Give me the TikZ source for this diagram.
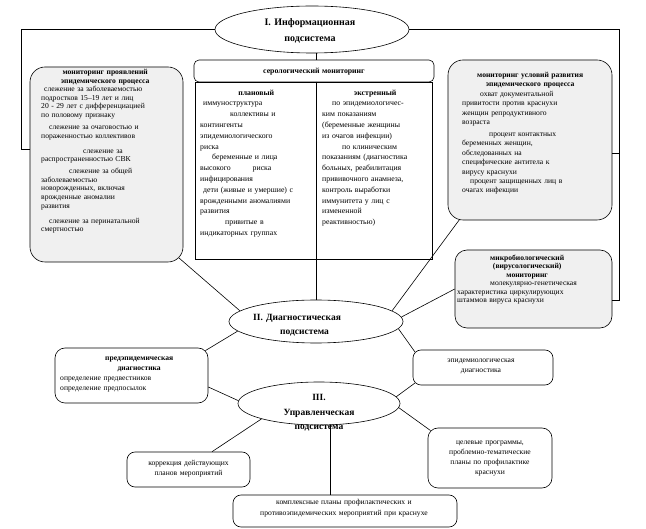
\documentclass[tikz,border=0pt]{standalone}
\usepackage{fontspec}
\setmainfont{Liberation Serif}
\usetikzlibrary{shapes.geometric,calc}
\newcommand{\J}[1]{\makebox[\linewidth][s]{#1}}
\newcommand{\C}[1]{\makebox[\linewidth][c]{\bfseries #1}}
\hbadness=10000 \hfuzz=20pt
\begin{document}
\begin{tikzpicture}[x=1pt,y=-1pt,
  ln/.style={line width=0.6pt},
  bx/.style={draw, line width=0.6pt, rectangle, inner sep=0, fill=white},
  gbx/.style={bx, fill=black!6},
  ell/.style={draw, line width=0.6pt, ellipse, inner sep=0, fill=white},
  txt/.style={inner sep=0, anchor=base west, align=left},
  ctxt/.style={inner sep=0, anchor=base, align=center, text width=#1},
  ctxt/.default=220,
  etxt/.style={ctxt=150, font=\fontsize{9.5}{15}\selectfont\bfseries}
]
\useasboundingbox[fill=white] (0,0) rectangle (646,529);

% coordinates for free corners of connectors
\coordinate (L1) at (21,29.5);
\coordinate (L2) at (21,149);
\coordinate (R1) at (619,29.5);
\coordinate (R2) at (619,300);
\coordinate (R3) at (619,153);
\coordinate (div) at (316,0);

% boxes
\node[gbx, rounded corners=15, minimum width=153, minimum height=195] (lbox) at (106.5,164.5) {};
\node[bx, rounded corners=5, minimum width=240, minimum height=22] (hdr) at (314,71) {};
\node[bx, minimum width=237, minimum height=177] (tbl) at (313.5,170.5) {};
\node[gbx, rounded corners=15, minimum width=164, minimum height=160] (rbox) at (530,140) {};
\node[gbx, rounded corners=12, minimum width=157, minimum height=78] (mbox) at (533.5,289) {};
\node[bx, rounded corners=10, minimum width=153, minimum height=55] (pbox) at (131.5,375.5) {};
\node[bx, rounded corners=8, minimum width=140, minimum height=35] (dbox) at (483,367.5) {};
\node[bx, rounded corners=8, minimum width=123, minimum height=35] (cbox) at (188.5,469.5) {};
\node[bx, rounded corners=10, minimum width=124, minimum height=60] (tbox) at (490,458) {};
\node[bx, rounded corners=8, minimum width=224, minimum height=32] (kbox) at (345,511) {};

% ellipses
\node[ell, minimum width=194, minimum height=47] (e1) at (312,29.5) {};
\node[ell, minimum width=174, minimum height=43] (e2) at (316,321.5) {};
\node[ell, minimum width=162, minimum height=43] (e3) at (319,403.5) {};

% connectors
\draw[ln] (e1.west) -- (L1) -- (L2) -- (L2 -| lbox.west);
\draw[ln] (e1.east) -- (R1) -- (R2) -- (R2 -| mbox.east);
\draw[ln] (rbox.east |- R3) -- (R3);
\draw[ln] (e1.south -| div) -- (hdr.north -| div);
\draw[ln] (tbl.north -| div) -- (tbl.south -| div);
\draw[ln] (tbl.south -| div) -- (e2.north -| div);
\draw[ln] ($(lbox.south east)+(-4.4,-4.4)$) -- (e2.172);
\draw[ln] ($(rbox.south west)+(12,-1)$) -- (e2.8);
\draw[ln] (mbox.west) -- (e2.3);
\draw[ln] ($(pbox.north east)+(-2.9,2.9)$) -- (e2.-173);
\draw[ln] ($(pbox.east)+(0,11.5)$) -- (e3.178);
\draw[ln] ($(dbox.north west)+(2.3,2.3)$) -- (e2.-5.5);
\draw[ln] ($(dbox.south west)+(2.3,-2.3)$) -- (e3.5.6);
\draw[ln] (e3.-3.4) -- ($(tbox.north west)+(2.9,2.9)$);
\draw[ln] (e3.-165) -- ($(cbox.north)+(23.5,0)$);
\draw[ln] (e3.-62.7) -- (e3.-62.7 |- kbox.north);

% ellipse texts
\node[etxt, font=\fontsize{10}{16}\selectfont\bfseries] (t1) at (310,26) {I. Информационная\\подсистема};
\node[txt, text width=130, font=\fontsize{9.5}{14}\selectfont\bfseries] (t2) at (253,321) {II. Диагностическая\\\hspace*{27pt}подсистема};
\node[etxt, font=\fontsize{9.5}{14.5}\selectfont\bfseries] (t3) at (319,401) {III.\\Управленческая\\подсистема};

% left box text
\node[txt, text width=128, font=\fontsize{7.6}{8.6}\selectfont] (lt) at (41,74.5) {%
\C{мониторинг проявлений}\\
\C{эпидемического процесса}\\
\J{\hspace*{3pt}слежение за заболеваемостью}\\
\J{подростков 15–19 лет и лиц}\\
\J{20 - 29 лет с дифференциацией}\\
по половому признаку\\[3.4pt]
\J{\hspace*{8pt}слежение за очаговостью и}\\
пораженностью коллективов\\[6.4pt]
\J{\hspace*{42pt}слежение за}\\
распространенностью СВК\\[3.4pt]
\J{\hspace*{28pt}слежение за общей}\\
заболеваемостью\\
\J{новорожденных, включая}\\
\J{врожденные аномалии}\\
развития\\[6.4pt]
\J{\hspace*{8pt}слежение за перинатальной}\\
смертностью};

% serological
\node[ctxt, font=\fontsize{7.8}{9}\selectfont\bfseries] (ht) at (314,73.5) {серологический мониторинг};
\node[txt, text width=112, font=\fontsize{7.8}{10.8}\selectfont] (tl) at (200,95.2) {%
\C{плановый}\\
\hspace*{3pt}иммуноструктура\\
\J{\hspace*{30pt}коллективы и}\\
контингенты\\
эпидемиологического\\
риска\\
\J{\hspace*{12pt}беременные и лица}\\
высокого\hspace{22pt}риска\\
инфицирования\\
\J{\hspace*{3pt}дети (живые и умершие) с}\\
\J{врожденными аномалиями}\\
развития\\
\J{\hspace*{25pt}привитые в}\\
индикаторных группах};
\node[txt, text width=106, font=\fontsize{7.8}{10.8}\selectfont] (tr) at (322,95.2) {%
\C{экстренный}\\
\J{\hspace*{10pt}по эпидемиологичес-}\\
\J{ким показаниям}\\
\J{(беременные женщины}\\
из очагов инфекции)\\
\J{\hspace*{20pt}по клиническим}\\
\J{показаниям (диагностика}\\
\J{больных, реабилитация}\\
\J{прививочного анамнеза,}\\
\J{контроль выработки}\\
\J{иммунитета у лиц с}\\
измененной\\
реактивностью)};

% right box text
\node[txt, text width=136, font=\fontsize{7.6}{9.4}\selectfont] (rt) at (462,77.5) {%
\C{мониторинг условий развития}\\
\C{эпидемического процесса}\\
\J{\hspace*{18pt}охват документальной}\\
\J{привитости против краснухи}\\
\makebox[123pt][s]{женщин репродуктивного}\\
возраста\\[2.6pt]
\J{\hspace*{27pt}процент контактных}\\
\J{беременных женщин,}\\
\J{обследованных на}\\
\J{специфические антитела к}\\
вирусу краснухи\\
\J{\hspace*{8pt}процент защищенных лиц в}\\
очагах инфекции};

% micro box text
\node[txt, text width=140, font=\fontsize{7.6}{8.4}\selectfont] (mt) at (457,260.5) {%
\C{микробиологический}\\
\C{(вирусологический)}\\
\C{мониторинг}\\
\J{\hspace*{33pt}молекулярно-генетическая}\\
\J{характеристика циркулирующих}\\
штаммов вируса краснухи};

% pre-epidemic
\node[txt, text width=158, font=\fontsize{7.6}{10}\selectfont] (pt) at (60,360.5) {%
\C{предэпидемическая}\\
\C{диагностика}\\
определение предвестников\\
определение предпосылок};

\node[ctxt, font=\fontsize{7.6}{10}\selectfont] (dt) at (481,362.5) {эпидемиологическая\\диагностика};
\node[ctxt, font=\fontsize{7.6}{10}\selectfont] (ct) at (188.5,465.5) {коррекция действующих\\планов мероприятий};
\node[ctxt, font=\fontsize{7.6}{10}\selectfont] (tt) at (490,444.5) {целевые программы,\\проблемно-тематические\\планы по профилактике\\краснухи};
\node[ctxt, font=\fontsize{7.6}{11}\selectfont] (kt) at (344,504.5) {комплексные планы профилактических и\\противоэпидемических мероприятий при краснухе};
\end{tikzpicture}
\end{document}
